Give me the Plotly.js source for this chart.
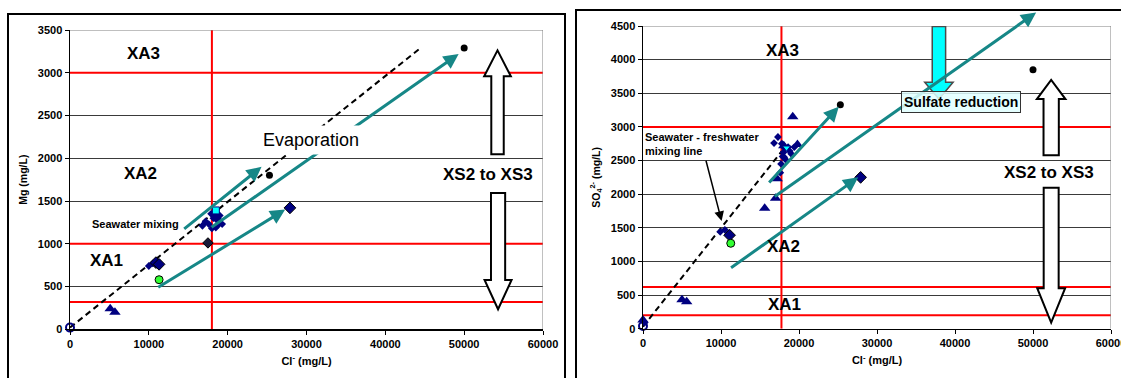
<!DOCTYPE html>
<html>
<head>
<meta charset="utf-8">
<script src="https://cdn.plot.ly/plotly-3.0.1.min.js"></script>
<style>html,body{margin:0;padding:0;background:#fff;}#chart{width:1121px;height:378px;}</style>
</head>
<body>
<div id="chart"></div>
<script>
// ---------- DATA: left panel (Mg vs Cl) ----------
const xTickVals = [0, 10000, 20000, 30000, 40000, 50000, 60000];
const leftOpenCircleX = [0];          const leftOpenCircleY = [20];
const leftTriangleX = [5100, 5700, 17200, 18700];
const leftTriangleY = [240, 200, 1250, 1300];
const leftSmallDiamondX = [10000, 10500, 16800, 17200, 17600, 18000, 18200, 18400, 18600, 18800, 19000, 19300, 17900, 18500];
const leftSmallDiamondY = [740, 770, 1210, 1260, 1230, 1180, 1300, 1340, 1280, 1220, 1330, 1230, 1350, 1190];
const leftBigDiamondX = [10900, 11300, 27900];
const leftBigDiamondY = [780, 760, 1420];
const leftDarkDiamondX = [17500];     const leftDarkDiamondY = [1010];
const leftGreenX = [11300];           const leftGreenY = [580];
const leftCyanX = [18500];            const leftCyanY = [1390];
const leftBlackX = [25300, 50000];    const leftBlackY = [1800, 3290];
const leftMixX = [0, 44600];          const leftMixY = [20, 3300];
const leftRedH = [3000, 1000, 320];   const leftRedV = [18000];

// ---------- DATA: right panel (SO4 vs Cl) ----------
const rightOpenCircleX = [0];         const rightOpenCircleY = [40];
const rightTriangleX = [0, 5000, 5600, 15600, 17000, 17200, 19200, 19800, 18050];
const rightTriangleY = [130, 430, 400, 1790, 1940, 2230, 3150, 2740, 2720];
const rightSmallDiamondX = [200, 9900, 10500, 16800, 17300, 17600, 17700, 17900, 18000, 18200, 18400, 18600, 18800, 19000, 19400, 17800, 18100];
const rightSmallDiamondY = [90, 1440, 1470, 2760, 2850, 2320, 2450, 2560, 2620, 2680, 2500, 2700, 2640, 2600, 2700, 2750, 2550];
const rightBigDiamondX = [11100, 27900];
const rightBigDiamondY = [1390, 2250];
const rightGreenX = [11250];          const rightGreenY = [1270];
const rightCyanX = [18400];           const rightCyanY = [2690];
const rightBlackX = [25300, 50000];   const rightBlackY = [3330, 3850];
const rightMixX = [0, 17800];         const rightMixY = [30, 2640];
const rightRedH = [3000, 620, 200];   const rightRedV = [17750];

// ---------- trend arrows (tail -> tip, data units) ----------
const leftArrowTailX = [14300, 17770, 11000];
const leftArrowTailY = [1160, 1180, 480];
const leftArrowTipX  = [24300, 49300, 27300];
const leftArrowTipY  = [1900, 3220, 1400];
const rightArrowTailX = [16000, 16700, 11100];
const rightArrowTailY = [2150, 1950, 890];
const rightArrowTipX  = [25100, 50400, 27600];
const rightArrowTipY  = [3300, 4700, 2250];

// ---------- layout helpers ----------
const W = 1121, H = 378;
const px = v => v / W;
const py = v => 1 - v / H;
const FONT = 'Liberation Sans, Arial, sans-serif';
const NAVY = '#000080';
const TEAL = '#168787';

function sc(x, y, xa, ya, marker) {
  return {type: 'scatter', mode: 'markers', x: x, y: y, xaxis: xa, yaxis: ya,
          marker: marker, cliponaxis: false, showlegend: false, hoverinfo: 'skip'};
}
function dashLine(x, y, xa, ya) {
  return {type: 'scatter', mode: 'lines', x: x, y: y, xaxis: xa, yaxis: ya,
          line: {color: '#000', width: 2, dash: '6px,4px'}, showlegend: false, hoverinfo: 'skip'};
}
const mSmallD = {symbol: 'diamond', size: 6, color: NAVY};
const mBigD = {symbol: 'diamond', size: 9, color: NAVY, line: {color: '#000', width: 1}};
const mTri = {symbol: 'triangle-up', size: 10, color: NAVY};
const mOpen = {symbol: 'circle-open', size: 8, color: NAVY, line: {width: 2}};
const mGreen = {symbol: 'circle', size: 8, color: '#33ff33', line: {color: '#000', width: 1}};
const mCyanSq = {symbol: 'square', size: 7, color: '#00ffff', line: {color: NAVY, width: 1}};
const mCyanTri = {symbol: 'triangle-down', size: 7, color: '#00ffff', line: {color: NAVY, width: 1}};
const mBlack = {symbol: 'circle', size: 7, color: '#000'};
const mDarkD = {symbol: 'diamond', size: 8, color: '#1a1a3a', line: {color: '#000', width: 1}};

const traces = [
  dashLine(leftMixX, leftMixY, 'x', 'y'),
  sc(leftOpenCircleX, leftOpenCircleY, 'x', 'y', mOpen),
  sc(leftTriangleX, leftTriangleY, 'x', 'y', mTri),
  sc(leftSmallDiamondX, leftSmallDiamondY, 'x', 'y', mSmallD),
  sc(leftBigDiamondX, leftBigDiamondY, 'x', 'y', mBigD),
  sc(leftDarkDiamondX, leftDarkDiamondY, 'x', 'y', mDarkD),
  sc(leftGreenX, leftGreenY, 'x', 'y', mGreen),
  sc(leftCyanX, leftCyanY, 'x', 'y', mCyanSq),
  sc(leftBlackX, leftBlackY, 'x', 'y', mBlack),

  dashLine(rightMixX, rightMixY, 'x2', 'y2'),
  sc(rightOpenCircleX, rightOpenCircleY, 'x2', 'y2', mOpen),
  sc(rightTriangleX, rightTriangleY, 'x2', 'y2', mTri),
  sc(rightSmallDiamondX, rightSmallDiamondY, 'x2', 'y2', mSmallD),
  sc(rightBigDiamondX, rightBigDiamondY, 'x2', 'y2', mBigD),
  sc(rightGreenX, rightGreenY, 'x2', 'y2', mGreen),
  sc(rightCyanX, rightCyanY, 'x2', 'y2', mCyanTri),
  sc(rightBlackX, rightBlackY, 'x2', 'y2', mBlack)
];

// ---------- shapes ----------
const shapes = [];
function redLines(hs, vs, xr, yr, xmax, ymax) {
  hs.forEach(v => shapes.push({type: 'line', xref: xr, yref: yr, x0: 0, x1: xmax, y0: v, y1: v,
    line: {color: '#ff0000', width: 2}, layer: 'between'}));
  vs.forEach(v => shapes.push({type: 'line', xref: xr, yref: yr, x0: v, x1: v, y0: 0, y1: ymax,
    line: {color: '#ff0000', width: 2}, layer: 'between'}));
}
redLines(leftRedH, leftRedV, 'x', 'y', 60000, 3500);
redLines(rightRedH, rightRedV, 'x2', 'y2', 60000, 4500);

// gray top/right borders of plot areas
[['x', 'y', 3500], ['x2', 'y2', 4500]].forEach(([xa, ya, ym]) => {
  shapes.push({type: 'line', xref: xa, yref: ya, x0: 0, x1: 60000, y0: ym, y1: ym,
    line: {color: '#808080', width: 1}, layer: 'between'});
  shapes.push({type: 'line', xref: xa, yref: ya, x0: 60000, x1: 60000, y0: 0, y1: ym,
    line: {color: '#808080', width: 1}, layer: 'between'});
});

// block arrows
function blockArrow(xr, yr, cx, yBase, yHeadBase, yTip, sh, hh, fill, lineColor, lw) {
  const p = `M${cx - sh},${yBase} L${cx + sh},${yBase} L${cx + sh},${yHeadBase} L${cx + hh},${yHeadBase} ` +
            `L${cx},${yTip} L${cx - hh},${yHeadBase} L${cx - sh},${yHeadBase} Z`;
  shapes.push({type: 'path', xref: xr, yref: yr, path: p, fillcolor: fill,
    line: {color: lineColor, width: lw}, layer: 'above'});
}
blockArrow('x', 'y', 54230, 2048, 2958, 3262, 790, 1690, '#ffffff', '#000', 2);
blockArrow('x', 'y', 54300, 1595, 576, 234, 900, 1710, '#ffffff', '#000', 2);
blockArrow('x2', 'y2', 52330, 2578, 3414, 3698, 980, 1830, '#ffffff', '#000', 2);
blockArrow('x2', 'y2', 52330, 2096, 603, 90, 960, 1790, '#ffffff', '#000', 2);
blockArrow('x2', 'y2', 37940, 4494, 3664, 3414, 858, 1818, '#00ffff', '#4a4a4a', 1.5);

// outer frames
shapes.push({type: 'rect', xref: 'paper', yref: 'paper', x0: px(8), x1: px(565), y0: py(14), y1: py(400),
  line: {color: '#000', width: 2}, fillcolor: 'rgba(0,0,0,0)', layer: 'above'});
shapes.push({type: 'rect', xref: 'paper', yref: 'paper', x0: px(576), x1: px(1140), y0: py(10), y1: py(400),
  line: {color: '#000', width: 2}, fillcolor: 'rgba(0,0,0,0)', layer: 'above'});

// ---------- annotations ----------
const annotations = [];
function label(xr, yr, x, y, text, size, extra) {
  annotations.push(Object.assign({xref: xr, yref: yr, x: x, y: y, text: text, showarrow: false,
    font: {family: FONT, size: size, color: '#000', weight: 'bold'}}, extra || {}));
}
function arrows(xr, yr, tx, ty, hx, hy) {
  for (let i = 0; i < tx.length; i++) {
    annotations.push({xref: xr, yref: yr, axref: xr, ayref: yr, x: hx[i], y: hy[i], ax: tx[i], ay: ty[i],
      text: '', showarrow: true, arrowhead: 2, arrowsize: 1, arrowwidth: 3, arrowcolor: TEAL, standoff: 0});
  }
}
arrows('x', 'y', leftArrowTailX, leftArrowTailY, leftArrowTipX, leftArrowTipY);
arrows('x2', 'y2', rightArrowTailX, rightArrowTailY, rightArrowTipX, rightArrowTipY);

label('x', 'y', 9300, 3224, 'XA3', 17);
label('x', 'y', 8880, 1822, 'XA2', 17);
label('x', 'y', 4570, 809, 'XA1', 17);
label('x', 'y', 52960, 1814, 'XS2 to XS3', 17);
label('x', 'y', 8250, 1230, 'Seawater mixing', 11);
annotations.push({xref: 'x', yref: 'y', x: 30580, y: 2211, text: 'Evaporation', showarrow: false,
  font: {family: FONT, size: 18, color: '#000'}, bgcolor: '#ffffff', borderpad: 4});

label('x2', 'y2', 17890, 4136, 'XA3', 17);
label('x2', 'y2', 17960, 1224, 'XA2', 17);
label('x2', 'y2', 18090, 354, 'XA1', 17);
label('x2', 'y2', 52020, 2329, 'XS2 to XS3', 17);
label('x2', 'y2', 40, 2743, 'Seawater - freshwater<br>mixing line', 11,
  {xanchor: 'left', align: 'left'});
annotations.push({xref: 'x2', yref: 'y2', axref: 'x2', ayref: 'y2', x: 10080, y: 1600, ax: 8030, ay: 2520,
  text: '', showarrow: true, arrowhead: 2, arrowsize: 1.3, arrowwidth: 1.5, arrowcolor: '#000', standoff: 0});
label('x2', 'y2', 40720, 3370, 'Sulfate reduction', 14,
  {bgcolor: 'rgba(224,255,255,0.85)', bordercolor: '#333', borderwidth: 1, borderpad: 2});

// ---------- axes ----------
function xAxis(dom, anchor) {
  return {domain: dom, anchor: anchor, range: [0, 60000], tickvals: xTickVals, ticktext: xTickVals.map(String),
    ticks: 'outside', ticklen: 4, tickcolor: '#000', showgrid: false, zeroline: false,
    showline: true, linecolor: '#000', linewidth: 1.5, fixedrange: true, ticklabeloverflow: 'allow',
    tickfont: {family: FONT, size: 11, color: '#000', weight: 'bold'},
    title: {text: 'Cl<sup>-</sup> (mg/L)', font: {family: FONT, size: 11, color: '#000', weight: 'bold'}, standoff: 8}};
}
function yAxis(dom, anchor, max, title) {
  return {domain: dom, anchor: anchor, range: [0, max], dtick: 500, tick0: 0,
    ticks: 'outside', ticklen: 4, tickcolor: '#000', showgrid: true, gridcolor: '#3a3a3a', gridwidth: 1,
    zeroline: false, showline: true, linecolor: '#000', linewidth: 1.5, fixedrange: true,
    exponentformat: 'none',
    tickfont: {family: FONT, size: 11, color: '#000', weight: 'bold'},
    title: {text: title, font: {family: FONT, size: 10.5, color: '#000', weight: 'bold'}, standoff: 8}};
}

const layout = {
  width: W, height: H, margin: {l: 0, r: 0, t: 0, b: 0},
  paper_bgcolor: '#ffffff', plot_bgcolor: '#ffffff', showlegend: false,
  xaxis: xAxis([px(70), px(543)], 'y'),
  yaxis: yAxis([py(329.3), py(30)], 'x', 3500, 'Mg (mg/L)'),
  xaxis2: xAxis([px(643), px(1111)], 'y2'),
  yaxis2: yAxis([py(328.7), py(26)], 'x2', 4500, 'SO<sub>4</sub><sup>2-</sup> (mg/L)'),
  shapes: shapes, annotations: annotations
};

Plotly.newPlot('chart', traces, layout, {displayModeBar: false, staticPlot: true});
</script>
</body>
</html>
